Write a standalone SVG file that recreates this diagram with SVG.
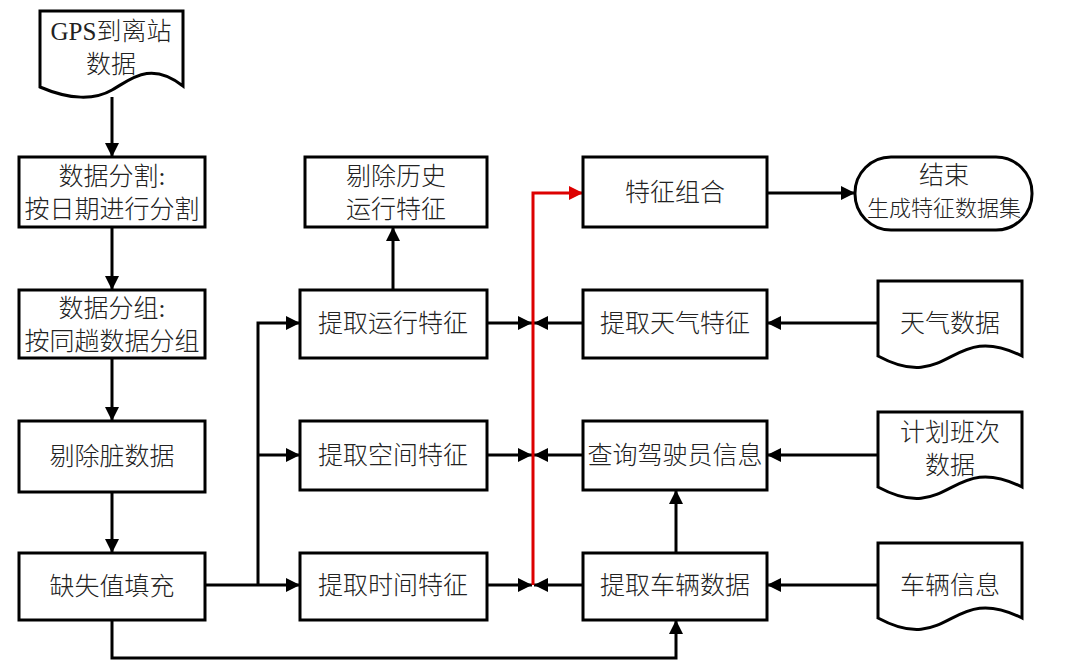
<svg xmlns="http://www.w3.org/2000/svg" width="1080" height="672" viewBox="0 0 1080 672">
<defs>
<style>
.b{fill:#fff;stroke:#000;stroke-width:3}
.t{font-family:"Liberation Serif","Noto Sans CJK SC",serif;font-size:25px;font-weight:300;fill:#222;text-anchor:middle}
.s{font-size:22px}
.c{fill:none;stroke:#000;stroke-width:3}
.r{fill:none;stroke:#d00;stroke-width:3}
</style>
<marker id="a" viewBox="0 0 10 10" refX="10" refY="5" markerWidth="14" markerHeight="14" markerUnits="userSpaceOnUse" orient="auto"><path d="M0,0L10,5L0,10z" fill="#000"/></marker>
<marker id="ar" viewBox="0 0 10 10" refX="10" refY="5" markerWidth="14" markerHeight="14" markerUnits="userSpaceOnUse" orient="auto"><path d="M0,0L10,5L0,10z" fill="#d00"/></marker>
</defs>
<rect width="1080" height="672" fill="#fff"/>
<g id="connectors">
<path class="c" d="M112,97V157" marker-end="url(#a)"/>
<path class="c" d="M112,227V290" marker-end="url(#a)"/>
<path class="c" d="M112,358V421" marker-end="url(#a)"/>
<path class="c" d="M112,492V553" marker-end="url(#a)"/>
<path class="c" d="M205,585H300" marker-end="url(#a)"/>
<path class="c" d="M258,585V323H300" marker-end="url(#a)"/>
<path class="c" d="M258,455H300" marker-end="url(#a)"/>
<path class="c" d="M393,290V227" marker-end="url(#a)"/>
<path class="c" d="M487,323H532" marker-end="url(#a)"/>
<path class="c" d="M487,455H532" marker-end="url(#a)"/>
<path class="c" d="M487,585H532" marker-end="url(#a)"/>
<path class="c" d="M583,323H534" marker-end="url(#a)"/>
<path class="c" d="M583,455H534" marker-end="url(#a)"/>
<path class="c" d="M583,585H534" marker-end="url(#a)"/>
<path class="r" d="M533,585V193H583" marker-end="url(#ar)"/>
<path class="c" d="M767,193H855" marker-end="url(#a)"/>
<path class="c" d="M878,323H767" marker-end="url(#a)"/>
<path class="c" d="M878,455H767" marker-end="url(#a)"/>
<path class="c" d="M878,585H767" marker-end="url(#a)"/>
<path class="c" d="M676,553V490" marker-end="url(#a)"/>
<path class="c" d="M112,620V658H676V620" marker-end="url(#a)"/>
</g>
<g id="gps">
<path class="b" d="M40,11H183V86C150,60 130,80 112,90C95,100 70,100 40,87Z"/>
<text class="t" x="111" y="40">GPS到离站</text>
<text class="t" x="111" y="73">数据</text>
</g>
<g id="split"><rect class="b" x="19" y="157" width="186" height="70"/><text class="t" x="112" y="185">数据分割:</text><text class="t" x="112" y="218">按日期进行分割</text></g>
<g id="group"><rect class="b" x="19" y="290" width="186" height="68"/><text class="t" x="112" y="317">数据分组:</text><text class="t" x="112" y="350">按同趟数据分组</text></g>
<g id="clean"><rect class="b" x="19" y="421" width="186" height="71"/><text class="t" x="112" y="465">剔除脏数据</text></g>
<g id="fill"><rect class="b" x="19" y="553" width="186" height="67"/><text class="t" x="112" y="595">缺失值填充</text></g>
<g id="removehist"><rect class="b" x="305" y="157" width="182" height="70"/><text class="t" x="396" y="185">剔除历史</text><text class="t" x="396" y="218">运行特征</text></g>
<g id="runfeat"><rect class="b" x="300" y="290" width="187" height="68"/><text class="t" x="393" y="332">提取运行特征</text></g>
<g id="spacefeat"><rect class="b" x="300" y="421" width="187" height="69"/><text class="t" x="393" y="464">提取空间特征</text></g>
<g id="timefeat"><rect class="b" x="300" y="553" width="187" height="67"/><text class="t" x="393" y="594">提取时间特征</text></g>
<g id="combine"><rect class="b" x="583" y="157" width="184" height="70"/><text class="t" x="675" y="201">特征组合</text></g>
<g id="weatherfeat"><rect class="b" x="583" y="290" width="184" height="68"/><text class="t" x="675" y="332">提取天气特征</text></g>
<g id="driver"><rect class="b" x="583" y="421" width="184" height="69"/><text class="t" x="675" y="464">查询驾驶员信息</text></g>
<g id="vehicle"><rect class="b" x="583" y="553" width="184" height="67"/><text class="t" x="675" y="594">提取车辆数据</text></g>
<g id="end"><rect class="b" x="855" y="157" width="177" height="73" rx="36" ry="36"/><text class="t" x="944" y="184">结束</text><text class="t s" x="944" y="216">生成特征数据集</text></g>
<g id="weather"><path class="b" d="M878,281H1022V356C950,320 950,395 878,356Z"/><text class="t" x="950" y="332">天气数据</text></g>
<g id="schedule"><path class="b" d="M878,412H1022V487C950,451 950,526 878,487Z"/><text class="t" x="950" y="441">计划班次</text><text class="t" x="950" y="474">数据</text></g>
<g id="vehinfo"><path class="b" d="M878,543H1022V618C950,582 950,657 878,618Z"/><text class="t" x="950" y="594">车辆信息</text></g>
</svg>
